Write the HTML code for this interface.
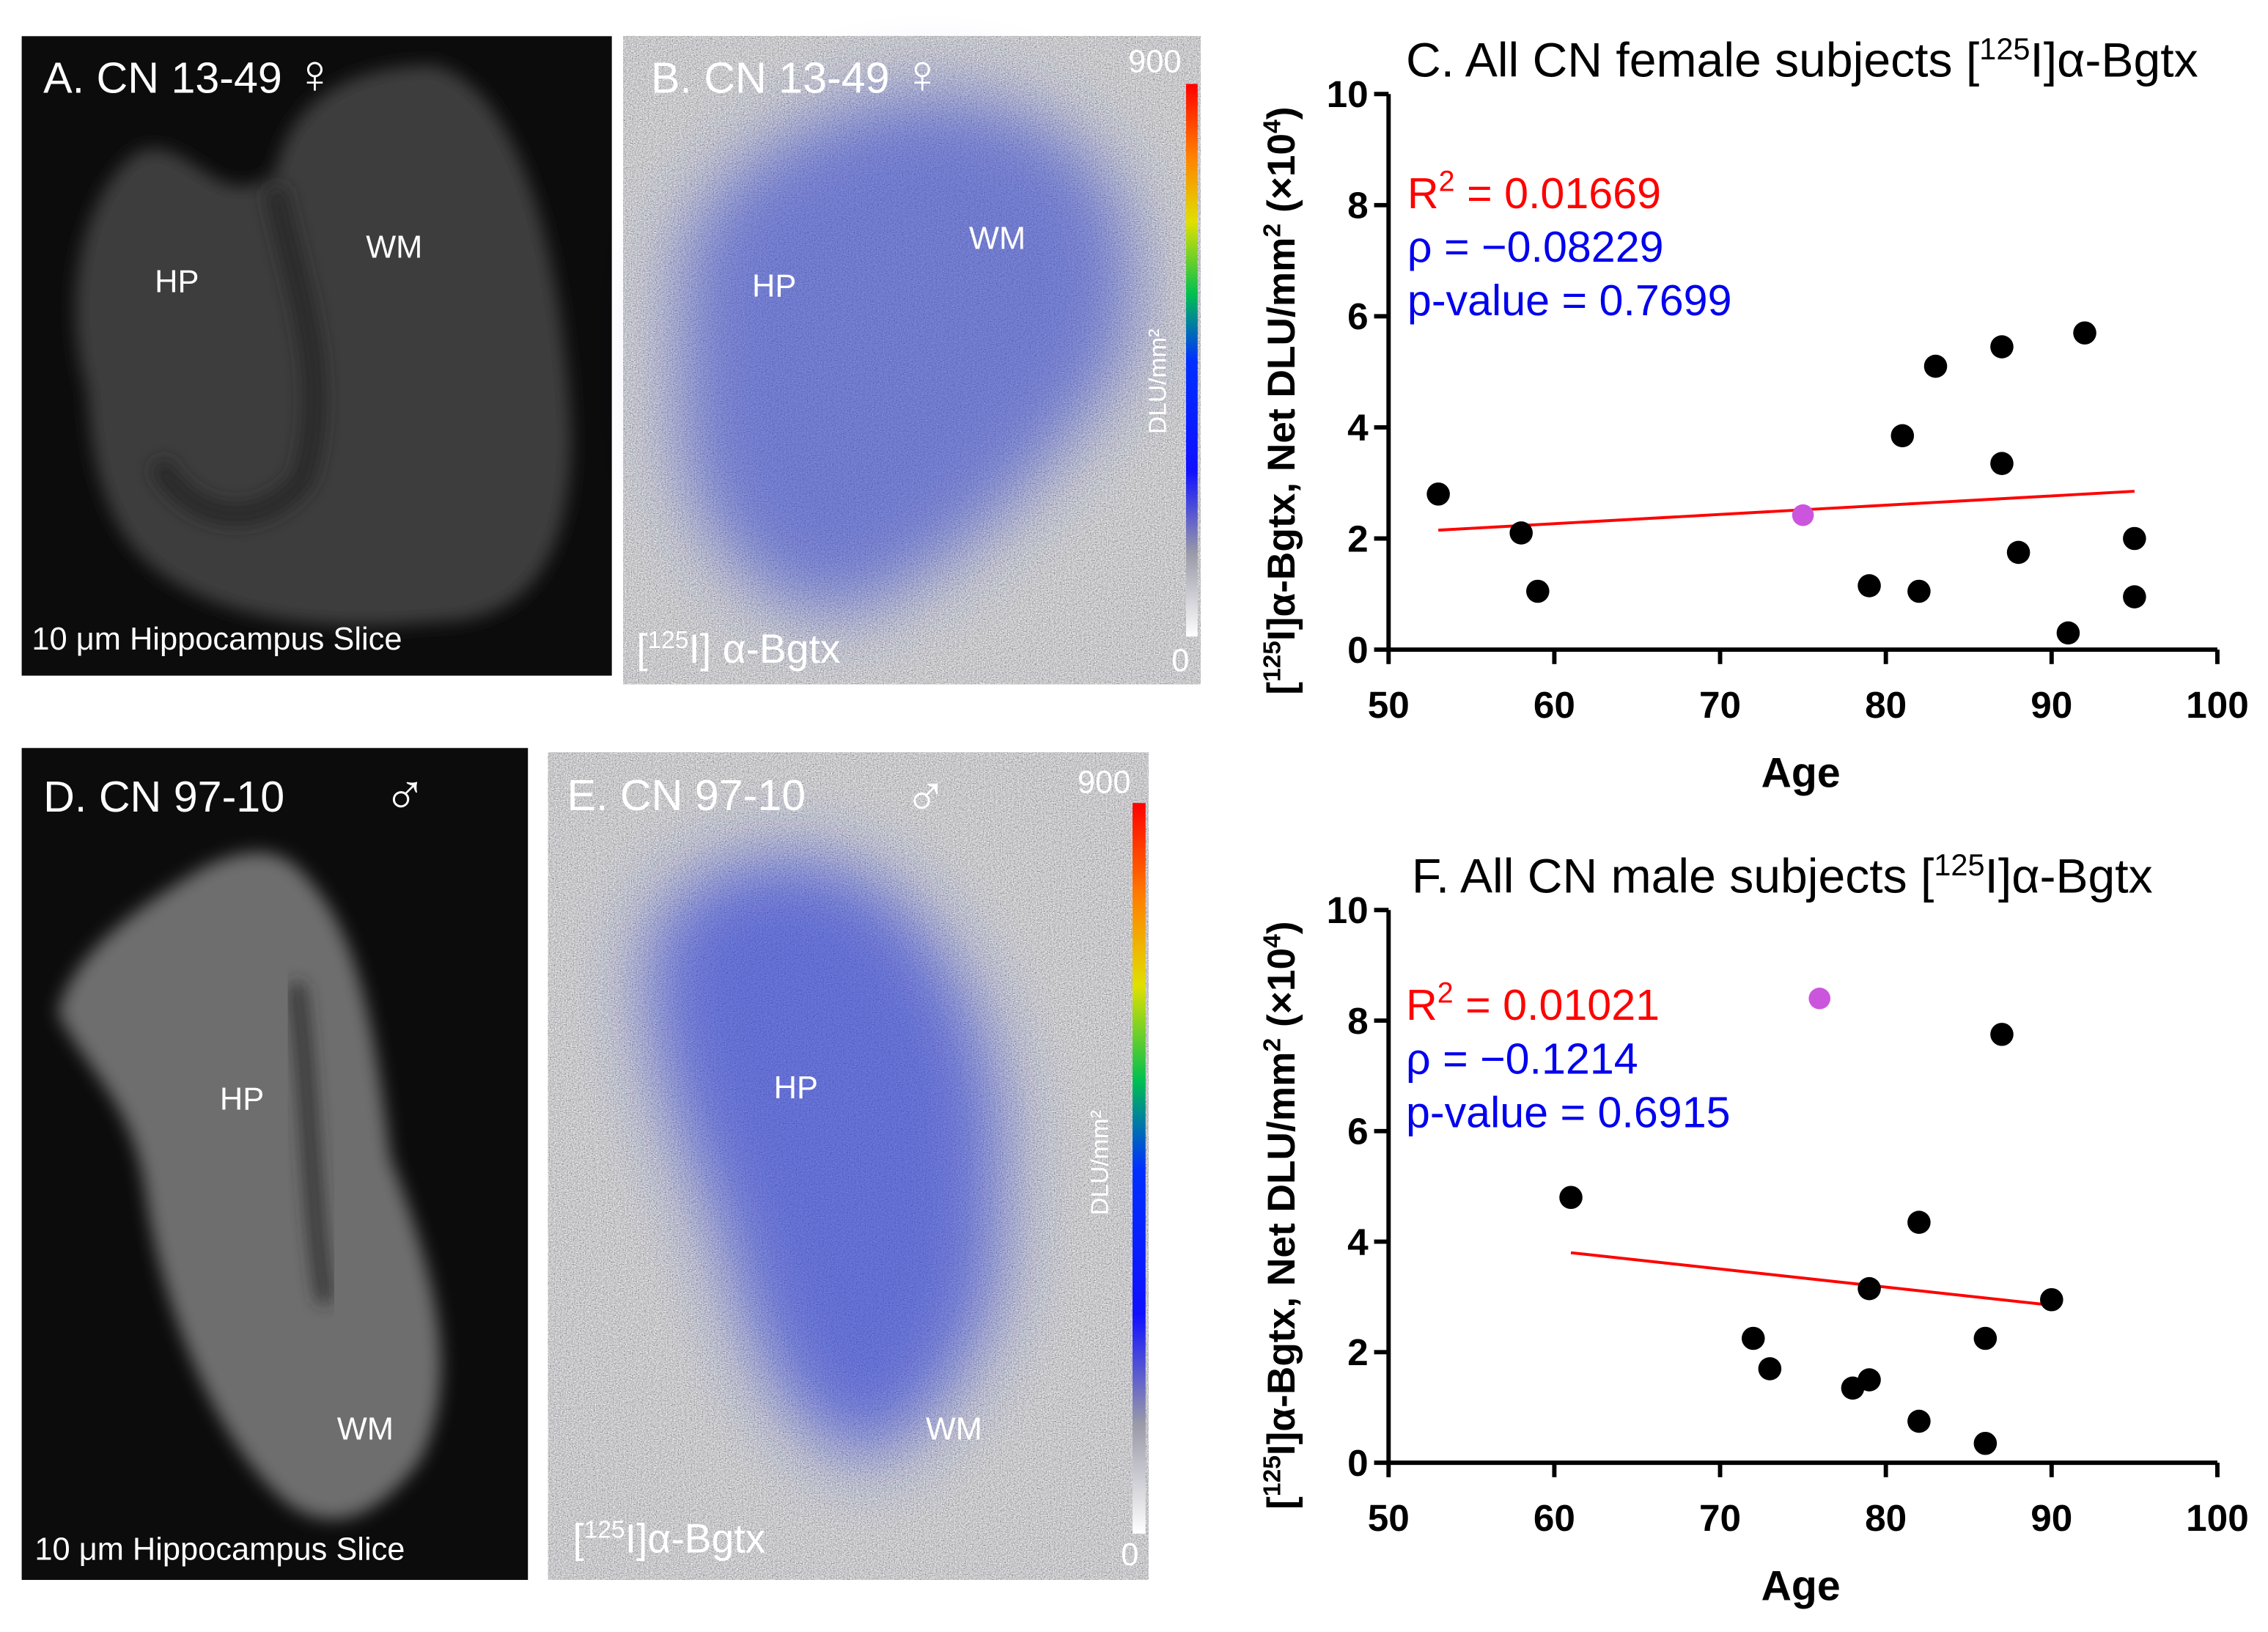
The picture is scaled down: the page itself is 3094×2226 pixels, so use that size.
<!DOCTYPE html>
<html><head><meta charset="utf-8"><style>
html,body{margin:0;padding:0;background:#fff;width:3094px;height:2226px;overflow:hidden}
svg{display:block}
text{font-family:"Liberation Sans",sans-serif}
</style></head><body>
<svg id="fig" width="3094" height="2226" viewBox="0 0 1568 1128" preserveAspectRatio="none">
<defs>
<filter id="noise" x="0" y="0" width="100%" height="100%">
<feTurbulence type="fractalNoise" baseFrequency="1.2" numOctaves="2" seed="3"/>
<feColorMatrix type="matrix" values="0.55 0.55 0.55 0 -0.25  0.55 0.55 0.55 0 -0.25  0.55 0.55 0.55 0 -0.23  0 0 0 0 1"/>
</filter>
<filter id="blur" x="-30%" y="-30%" width="160%" height="160%"><feGaussianBlur stdDeviation="25"/></filter>
<filter id="blur2" x="-30%" y="-30%" width="160%" height="160%"><feGaussianBlur stdDeviation="6"/></filter>
<linearGradient id="cbar" x1="0" y1="1" x2="0" y2="0">
<stop offset="0" stop-color="#ffffff"/><stop offset="0.15" stop-color="#9a9aa8"/><stop offset="0.3" stop-color="#1010ff"/><stop offset="0.5" stop-color="#0030ff"/><stop offset="0.62" stop-color="#00c050"/><stop offset="0.75" stop-color="#e0e000"/><stop offset="0.87" stop-color="#ff8000"/><stop offset="1" stop-color="#ff0000"/>
</linearGradient>
</defs>

<g>
<rect x="15" y="25" width="408" height="442" fill="#0c0c0c"/>
<path d="M60 270 C40 200 60 130 95 105 C130 90 150 150 190 120 C200 70 240 45 300 45 C360 60 390 180 395 300 C395 380 370 430 300 430 C200 440 110 420 80 360 C65 330 62 300 60 270 Z" fill="#3c3c3c" filter="url(#blur2)"/>
<path d="M190 130 C205 200 230 260 210 330 C180 370 130 360 110 320" stroke="#262626" stroke-width="14" fill="none" filter="url(#blur2)"/>
<text x="30" y="64" font-size="30" fill="#fff">A. CN 13-49 <tspan font-size="38">♀</tspan></text>
<text x="107" y="202" font-size="22" fill="#fff">HP</text>
<text x="253" y="178" font-size="22" fill="#fff">WM</text>
<text x="22" y="449" font-size="22" fill="#fff">10 μm Hippocampus Slice</text>
</g>

<g>
<rect x="431" y="25" width="399" height="448" filter="url(#noise)"/>
<path d="M470 200 C470 130 540 90 600 70 C660 55 730 70 770 130 C800 200 780 260 740 300 C700 350 660 390 600 420 C540 440 480 380 470 300 Z" fill="#2a3ed0" opacity="0.55" filter="url(#blur)"/>
<rect x="820" y="58" width="8" height="382" fill="url(#cbar)"/>
<text x="780" y="50" font-size="22" fill="#fff">900</text>
<text x="810" y="464" font-size="22" fill="#fff">0</text>
<text transform="translate(806 300) rotate(-90)" font-size="17" fill="#fff">DLU/mm²</text>
<text x="450" y="64" font-size="30" fill="#fff">B. CN 13-49 <tspan font-size="38">♀</tspan></text>
<text x="520" y="205" font-size="22" fill="#fff">HP</text>
<text x="670" y="172" font-size="22" fill="#fff">WM</text>
<text x="440" y="458" font-size="28" fill="#fff">[<tspan font-size="17" dy="-10">125</tspan><tspan dy="10">I] α-Bgtx</tspan></text>
</g>

<g>
<rect x="15" y="517" width="350" height="575" fill="#0c0c0c"/>
<path d="M40 700 C50 660 90 630 140 600 C180 580 200 590 215 610 C250 650 260 720 270 800 C300 880 320 950 290 1010 C260 1050 230 1060 200 1040 C150 1000 110 900 100 820 C90 760 60 740 40 700 Z" fill="#6e6e6e" filter="url(#blur2)"/>
<path d="M205 680 C215 760 215 840 225 900" stroke="#2a2a2a" stroke-width="10" fill="none" filter="url(#blur2)"/>
<text x="30" y="561" font-size="30" fill="#fff">D. CN 97-10</text>
<text x="265" y="563" font-size="40" fill="#fff">♂</text>
<text x="152" y="767" font-size="22" fill="#fff">HP</text>
<text x="233" y="995" font-size="22" fill="#fff">WM</text>
<text x="24" y="1078" font-size="22" fill="#fff">10 μm Hippocampus Slice</text>
</g>

<g>
<rect x="379" y="520" width="415" height="572" filter="url(#noise)"/>
<path d="M450 650 C470 590 560 570 620 620 C680 680 700 760 690 830 C700 900 660 980 600 1010 C540 990 520 930 500 860 C470 780 440 720 450 650 Z" fill="#2436d8" opacity="0.6" filter="url(#blur)"/>
<rect x="783" y="555" width="9" height="505" fill="url(#cbar)"/>
<text x="745" y="548" font-size="22" fill="#fff">900</text>
<text x="775" y="1082" font-size="22" fill="#fff">0</text>
<text transform="translate(766 840) rotate(-90)" font-size="17" fill="#fff">DLU/mm²</text>
<text x="392" y="560" font-size="30" fill="#fff">E. CN 97-10</text>
<text x="625" y="564" font-size="40" fill="#fff">♂</text>
<text x="535" y="759" font-size="22" fill="#fff">HP</text>
<text x="640" y="995" font-size="22" fill="#fff">WM</text>
<text x="396" y="1073" font-size="28" fill="#fff">[<tspan font-size="17" dy="-10">125</tspan><tspan dy="10">I]α-Bgtx</tspan></text>
</g>

<g id="chartC"></g>
<g id="chartF"></g>
</svg>
<script>
const ageTicks = [50,60,70,80,90,100];
const valTicks = [0,2,4,6,8,10];
const femaleAge = [53,58,59,79,81,82,83,87,87,88,91,92,95,95];
const femaleVal = [2.8,2.1,1.05,1.15,3.85,1.05,5.1,5.45,3.35,1.75,0.3,5.7,2.0,0.95];
const femaleHiAge = [75];
const femaleHiVal = [2.42];
const femaleFitAge = [53,95];
const femaleFitVal = [2.15,2.85];
const maleAge = [61,72,73,78,79,79,82,82,86,86,87,90];
const maleVal = [4.8,2.25,1.7,1.35,1.5,3.15,4.35,0.75,2.25,0.35,7.75,2.95];
const maleHiAge = [76];
const maleHiVal = [8.4];
const maleFitAge = [61,90];
const maleFitVal = [3.8,2.85];

const NS='http://www.w3.org/2000/svg';
function mk(parent,tag,attrs,txt){const e=document.createElementNS(NS,tag);for(const k in attrs)e.setAttribute(k,attrs[k]);if(txt!==undefined)e.textContent=txt;parent.appendChild(e);return e;}

function drawChart(g,y0,y10,title,stats,ages,vals,hiA,hiV,fitA,fitV){
  const x50=960,x100=1533;
  const sx=a=>x50+(a-50)/50*(x100-x50);
  const sy=v=>y0+(v/10)*(y10-y0);
  const ya=mk(g,'line',{x1:sx(50),y1:sy(0)+1,x2:sx(50),y2:sy(10),stroke:'#000','stroke-width':3});
  
  const xa=mk(g,'line',{x1:sx(50)-1,y1:sy(0),x2:sx(100),y2:sy(0),stroke:'#000','stroke-width':3});
  
  valTicks.forEach(v=>{
    mk(g,'line',{x1:sx(50)-10,y1:sy(v),x2:sx(50),y2:sy(v),stroke:'#000','stroke-width':3});
    const t=mk(g,'text',{x:sx(50)-14,y:sy(v)+9,'text-anchor':'end','font-size':26,'font-weight':'bold'},v);
    
  });
  ageTicks.forEach(a=>{
    mk(g,'line',{x1:sx(a),y1:sy(0),x2:sx(a),y2:sy(0)+10,stroke:'#000','stroke-width':3});
    const t=mk(g,'text',{x:sx(a),y:sy(0)+47,'text-anchor':'middle','font-size':26,'font-weight':'bold'},a);
    
  });
  const xt=mk(g,'text',{x:1245,y:sy(0)+95,'text-anchor':'middle','font-size':29,'font-weight':'bold'},'Age');
  
  const yt=mk(g,'text',{transform:`translate(895 ${(y0+y10)/2+20}) rotate(-90)`,'text-anchor':'middle','font-size':27,'font-weight':'bold'});
  
  yt.innerHTML='[<tspan font-size="17" dy="-10">125</tspan><tspan dy="10">I]α-Bgtx, Net DLU/mm</tspan><tspan font-size="17" dy="-10">2</tspan><tspan dy="10"> (×10</tspan><tspan font-size="17" dy="-10">4</tspan><tspan dy="10">)</tspan>';
  const tt=mk(g,'text',{x:title.x,y:y10-12,'font-size':33.5});
  
  tt.innerHTML=title.t+' [<tspan font-size="21" dy="-12">125</tspan><tspan dy="12">I]α-Bgtx</tspan>';
  const s1=mk(g,'text',{x:stats.x,y:stats.y,'font-size':30,fill:'#ff0000'});
  
  s1.innerHTML='R<tspan font-size="20" dy="-12">2</tspan><tspan dy="12"> = '+stats.r2+'</tspan>';
  const s2=mk(g,'text',{x:stats.x,y:stats.y+37,'font-size':30,fill:'#0000ee'},'ρ = −'+stats.rho);
  
  const s3=mk(g,'text',{x:stats.x,y:stats.y+74,'font-size':30,fill:'#0000ee'},'p-value = '+stats.p);
  
  const fl=mk(g,'line',{x1:sx(fitA[0]),y1:sy(fitV[0]),x2:sx(fitA[1]),y2:sy(fitV[1]),stroke:'#ff0000','stroke-width':2});
  
  ages.forEach((a,i)=>{
    const c=mk(g,'circle',{cx:sx(a),cy:sy(vals[i]),r:8,fill:'#000'});
    
  });
  hiA.forEach((a,i)=>{
    const c=mk(g,'circle',{cx:sx(a),cy:sy(hiV[i]),r:7.5,fill:'#cc55dd'});
    
  });
}
drawChart(document.getElementById('chartC'),449,65,{x:972,t:'C. All CN female subjects'},{x:973,y:144,r2:'0.01669',rho:'0.08229',p:'0.7699'},femaleAge,femaleVal,femaleHiAge,femaleHiVal,femaleFitAge,femaleFitVal);
drawChart(document.getElementById('chartF'),1011,629,{x:976,t:'F. All CN male subjects'},{x:972,y:705,r2:'0.01021',rho:'0.1214',p:'0.6915'},maleAge,maleVal,maleHiAge,maleHiVal,maleFitAge,maleFitVal);
</script>
</body></html>
